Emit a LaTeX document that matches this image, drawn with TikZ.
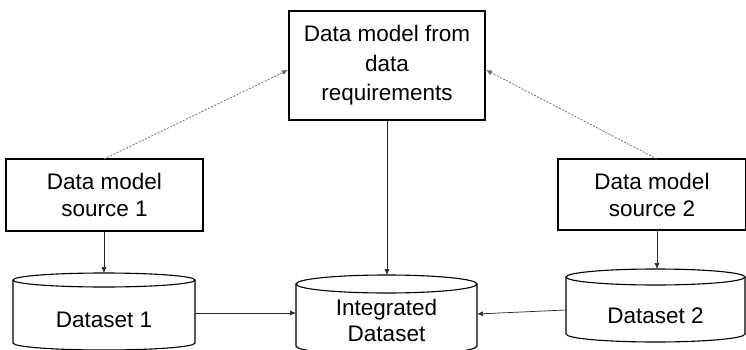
\documentclass[tikz,border=0pt]{standalone}
\usepackage{fontspec}
\setmainfont{Liberation Sans}
\usetikzlibrary{arrows.meta}
\begin{document}
\begin{tikzpicture}[x=1pt,y=1pt,
  box/.style={draw=black, line width=1.1pt, align=center, inner sep=0pt,
    font=\fontsize{22.5}{27}\selectfont},
  cyltext/.style={align=center, inner sep=0pt, font=\fontsize{22.5}{26}\selectfont},
  cylline/.style={draw=black, line width=1.1pt},
  arr/.style={draw=black!85, line width=0.7pt, -{Latex[length=6pt,width=5pt]}},
  darr/.style={draw=black!60, line width=0.7pt, dash pattern=on 2pt off 1.5pt,
    -{Latex[length=6pt,width=5pt]}}]
\useasboundingbox (0,0) rectangle (746,-350);
\clip (0,0) rectangle (746,-350);
\fill[white] (0,0) rectangle (746,-350);
% cylinders
\draw[cylline] (13,-280) -- (13,-343) arc[start angle=180,end angle=360,x radius=91,y radius=7] -- (195,-280);
\draw[cylline] (104,-280) ellipse[x radius=91,y radius=7];
\draw[cylline] (296,-284) -- (296,-346) arc[start angle=180,end angle=360,x radius=90.5,y radius=9] -- (477,-284);
\draw[cylline] (386.5,-284) ellipse[x radius=90.5,y radius=9];
\draw[cylline] (566,-277) -- (566,-334) arc[start angle=180,end angle=360,x radius=89.5,y radius=8] -- (745,-277);
\draw[cylline] (655.5,-277) ellipse[x radius=89.5,y radius=8];
% nodes
\node[box, font=\fontsize{22.5}{29.5}\selectfont, minimum width=196, minimum height=109] (top) at (387,-65.5) {Data model from\\data\\requirements};
\node[box, minimum width=197, minimum height=72] (lbox) at (104.5,-195) {Data model\\source 1};
\node[box, minimum width=188, minimum height=71] (rbox) at (652,-194.5) {Data model\\source 2};
\node[cyltext, minimum width=182] (d1) at (104,-320) {Dataset 1};
\node[cyltext, minimum width=181] (di) at (386.5,-320) {Integrated\\Dataset};
\node[cyltext, minimum width=179] (d2) at (655.5,-316) {Dataset 2};
\coordinate (d1t) at (104,-273);
\coordinate (dit) at (387,-275);
\coordinate (d2t) at (657,-269);
\coordinate (d1e) at (195,-313);
\coordinate (diw) at (296,-313);
\coordinate (die) at (477,-314);
\coordinate (d2w) at (566,-310);
\coordinate (ltop) at (104,-159);
\coordinate (rtop) at (657,-159);
\coordinate (topw) at (288,-70);
\coordinate (tope) at (486,-70);
% connectors
\draw[arr] (lbox.south -| d1t) -- (d1t);
\draw[arr] (top.south -| dit) -- (dit);
\draw[arr] (rbox.south -| d2t) -- (d2t);
\draw[arr] (d1e) -- (diw);
\draw[arr] (d2w) -- (die);
\draw[darr] (ltop) -- (topw);
\draw[darr] (rtop) -- (tope);
\end{tikzpicture}
\end{document}
